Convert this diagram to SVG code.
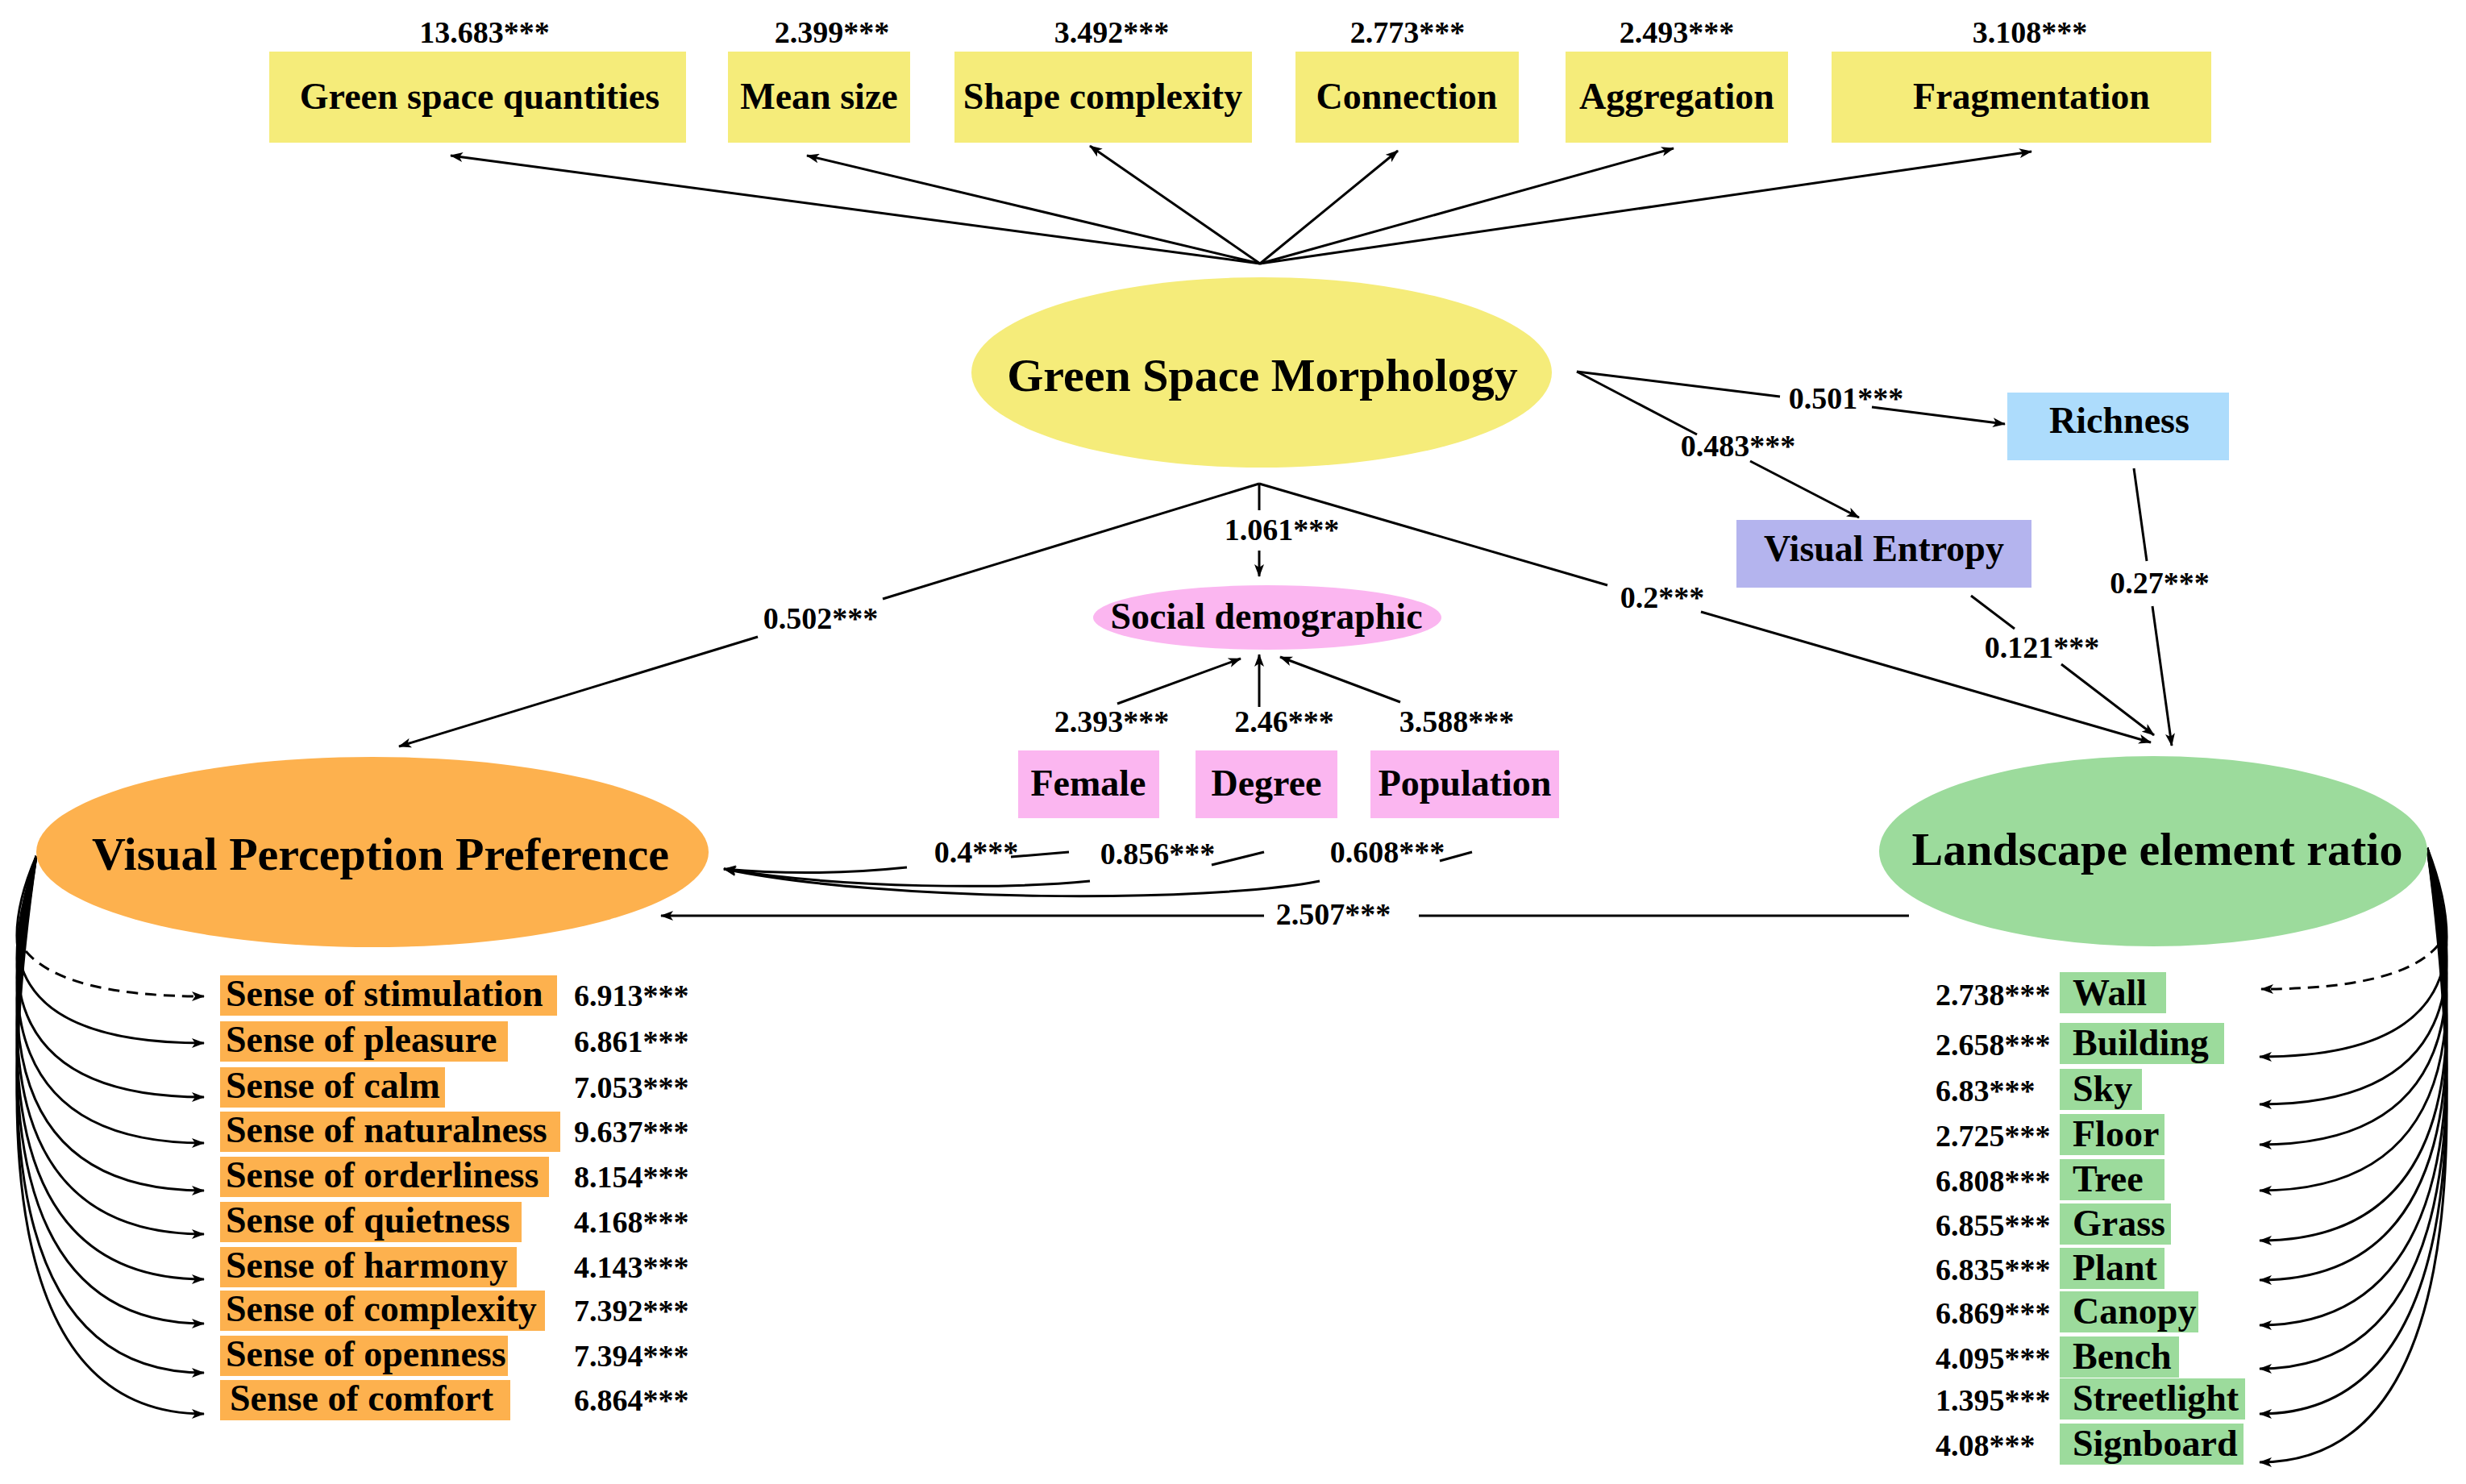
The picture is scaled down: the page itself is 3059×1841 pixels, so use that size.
<svg xmlns="http://www.w3.org/2000/svg" width="3059" height="1841" viewBox="0 0 3059 1841">
<style>
text{font-family:"Liberation Serif","Times New Roman",serif;font-weight:bold;fill:#000}
.lbl{font-size:46px}
.big{font-size:58px}
.num{font-size:38px}
.mid{text-anchor:middle}
.ln{fill:none;stroke:#000;stroke-width:3}
.ar{marker-end:url(#ah)}
.dash{stroke-dasharray:14 9}
.yel{fill:#F5EC7A}
.org{fill:#FDB14E}
.grn{fill:#9CDB9C}
.pnk{fill:#FBB6F0}
.blu{fill:#ADDCFC}
.pur{fill:#B4B4EE}
</style>
<defs>
<marker id="ah" markerUnits="userSpaceOnUse" markerWidth="16" markerHeight="12" refX="15" refY="6" orient="auto">
<path d="M0,0 L16,6 L0,12 L4,6 Z" fill="#000"/>
</marker>
</defs>
<rect width="3059" height="1841" fill="#fff"/>

<g id="connectors">
<!-- top fan -->
<path class="ln ar" d="M1563,327 L559,193"/>
<path class="ln ar" d="M1563,327 L1001,193"/>
<path class="ln ar" d="M1563,327 L1352,181"/>
<path class="ln ar" d="M1563,327 L1734,187"/>
<path class="ln ar" d="M1563,327 L2076,184"/>
<path class="ln ar" d="M1563,327 L2520,188"/>
<!-- GSM to Richness / Visual Entropy -->
<path class="ln" d="M1956,461 L2208,492"/>
<path class="ln ar" d="M2322,505 L2487,526"/>
<path class="ln" d="M1956,461 L2105,539"/>
<path class="ln ar" d="M2171,572 L2306,642"/>
<!-- GSM to VPP / LER / Social -->
<path class="ln" d="M1562,600 L1095,743"/>
<path class="ln ar" d="M940,790 L495,926"/>
<path class="ln" d="M1562,600 L1994,726"/>
<path class="ln ar" d="M2110,759 L2668,921"/>
<path class="ln" d="M1562,600 L1562,633"/>
<path class="ln ar" d="M1562,683 L1562,715"/>
<!-- Visual Entropy / Richness to LER -->
<path class="ln" d="M2445,739 L2499,780"/>
<path class="ln ar" d="M2557,824 L2672,912"/>
<path class="ln" d="M2647,581 L2663,696"/>
<path class="ln ar" d="M2670,752 L2694,925"/>
<!-- indicators to Social demographic -->
<path class="ln ar" d="M1386,873 L1539,817"/>
<path class="ln ar" d="M1562,877 L1562,812"/>
<path class="ln ar" d="M1737,871 L1588,815"/>
<!-- Social indicators to VPP -->
<path class="ln" d="M1326,1057 L1254,1063"/>
<path class="ln ar" d="M1125,1076 Q1010,1088 898,1078"/>
<path class="ln" d="M1568,1057 L1503,1073"/>
<path class="ln ar" d="M1352,1093 C1250,1103 1050,1103 898,1078"/>
<path class="ln" d="M1826,1057 L1786,1068"/>
<path class="ln ar" d="M1637,1093 C1500,1120 1100,1120 898,1078"/>
<!-- LER to VPP -->
<path class="ln" d="M2368,1136 L1760,1136"/>
<path class="ln ar" d="M1568,1136 L820,1136"/>
<!-- VPP indicators -->
<path class="ln ar dash" d="M32,1180 Q80,1236 253,1236"/>
<path class="ln ar" d="M45,1062 C-5,1178 5,1294 253,1294"/>
<path class="ln ar" d="M45,1062 C-5,1212 5,1361 253,1361"/>
<path class="ln ar" d="M45,1062 C-5,1240 5,1418 253,1418"/>
<path class="ln ar" d="M45,1062 C-5,1270 5,1477 253,1477"/>
<path class="ln ar" d="M45,1062 C-5,1297 5,1531 253,1531"/>
<path class="ln ar" d="M45,1062 C-5,1325 5,1587 253,1587"/>
<path class="ln ar" d="M45,1062 C-5,1352 5,1642 253,1642"/>
<path class="ln ar" d="M45,1062 C-5,1383 5,1703 253,1703"/>
<path class="ln ar" d="M45,1062 C-5,1408 5,1754 253,1754"/>
<!-- LER indicators -->
<path class="ln ar dash" d="M3025,1172 Q2980,1227 2805,1227"/>
<path class="ln ar" d="M3011,1052 C3061,1182 3051,1311 2803,1311"/>
<path class="ln ar" d="M3011,1052 C3061,1211 3051,1370 2803,1370"/>
<path class="ln ar" d="M3011,1052 C3061,1236 3051,1420 2803,1420"/>
<path class="ln ar" d="M3011,1052 C3061,1265 3051,1477 2803,1477"/>
<path class="ln ar" d="M3011,1052 C3061,1296 3051,1539 2803,1539"/>
<path class="ln ar" d="M3011,1052 C3061,1320 3051,1588 2803,1588"/>
<path class="ln ar" d="M3011,1052 C3061,1348 3051,1644 2803,1644"/>
<path class="ln ar" d="M3011,1052 C3061,1375 3051,1698 2803,1698"/>
<path class="ln ar" d="M3011,1052 C3061,1403 3051,1754 2803,1754"/>
<path class="ln ar" d="M3011,1052 C3061,1433 3051,1814 2803,1814"/>
<!-- path labels -->
<text class="num mid" x="601" y="53">13.683***</text>
<text class="num mid" x="1032" y="53">2.399***</text>
<text class="num mid" x="1379" y="53">3.492***</text>
<text class="num mid" x="1746" y="53">2.773***</text>
<text class="num mid" x="2080" y="53">2.493***</text>
<text class="num mid" x="2518" y="53">3.108***</text>
<text class="num mid" x="2290" y="507">0.501***</text>
<text class="num mid" x="2156" y="566">0.483***</text>
<text class="num mid" x="1018" y="780">0.502***</text>
<text class="num mid" x="2062" y="754">0.2***</text>
<text class="num mid" x="1590" y="670">1.061***</text>
<text class="num mid" x="2533" y="816">0.121***</text>
<text class="num mid" x="2679" y="736">0.27***</text>
<text class="num mid" x="1379" y="908">2.393***</text>
<text class="num mid" x="1593" y="908">2.46***</text>
<text class="num mid" x="1807" y="908">3.588***</text>
<text class="num mid" x="1211" y="1070">0.4***</text>
<text class="num mid" x="1436" y="1072">0.856***</text>
<text class="num mid" x="1721" y="1070">0.608***</text>
<text class="num mid" x="1654" y="1147">2.507***</text>
</g>

<g id="n-gsq"><rect class="yel" x="334" y="64" width="517" height="113"/><text class="lbl mid" x="595" y="135">Green space quantities</text></g>
<g id="n-mean"><rect class="yel" x="903" y="64" width="226" height="113"/><text class="lbl mid" x="1016" y="135">Mean size</text></g>
<g id="n-shape"><rect class="yel" x="1184" y="64" width="369" height="113"/><text class="lbl mid" x="1368" y="135">Shape complexity</text></g>
<g id="n-conn"><rect class="yel" x="1607" y="64" width="277" height="113"/><text class="lbl mid" x="1745" y="135">Connection</text></g>
<g id="n-aggr"><rect class="yel" x="1942" y="64" width="276" height="113"/><text class="lbl mid" x="2080" y="135">Aggregation</text></g>
<g id="n-frag"><rect class="yel" x="2272" y="64" width="471" height="113"/><text class="lbl mid" x="2520" y="135">Fragmentation</text></g>

<g id="n-gsm"><ellipse class="yel" cx="1565" cy="462" rx="360" ry="118"/><text class="big mid" x="1566" y="485">Green Space Morphology</text></g>
<g id="n-richness"><rect class="blu" x="2490" y="487" width="275" height="84"/><text class="lbl mid" x="2629" y="537">Richness</text></g>
<g id="n-entropy"><rect class="pur" x="2154" y="645" width="366" height="84"/><text class="lbl mid" x="2337" y="696">Visual Entropy</text></g>
<g id="n-social"><ellipse class="pnk" cx="1572" cy="766" rx="216" ry="40"/><text class="lbl mid" x="1571" y="780">Social demographic</text></g>
<g id="n-female"><rect class="pnk" x="1263" y="931" width="175" height="84"/><text class="lbl mid" x="1350" y="987">Female</text></g>
<g id="n-degree"><rect class="pnk" x="1483" y="931" width="176" height="84"/><text class="lbl mid" x="1571" y="987">Degree</text></g>
<g id="n-population"><rect class="pnk" x="1700" y="931" width="234" height="84"/><text class="lbl mid" x="1817" y="987">Population</text></g>

<g id="n-vpp"><ellipse class="org" cx="462" cy="1057" rx="417" ry="118"/><text class="big mid" x="472" y="1079">Visual Perception Preference</text></g>
<g id="n-ler"><ellipse class="grn" cx="2671" cy="1056" rx="340" ry="118"/><text class="big mid" x="2676" y="1073">Landscape element ratio</text></g>

<g id="vpp-items">
<g id="i-stimulation"><rect class="org" x="273" y="1210" width="418" height="50"/><text class="lbl" x="280" y="1248">Sense of stimulation</text><text class="num" x="712" y="1248">6.913***</text></g>
<g id="i-pleasure"><rect class="org" x="273" y="1267" width="357" height="50"/><text class="lbl" x="280" y="1305">Sense of pleasure</text><text class="num" x="712" y="1305">6.861***</text></g>
<g id="i-calm"><rect class="org" x="273" y="1324" width="279" height="50"/><text class="lbl" x="280" y="1362">Sense of calm</text><text class="num" x="712" y="1362">7.053***</text></g>
<g id="i-naturalness"><rect class="org" x="273" y="1379" width="422" height="50"/><text class="lbl" x="280" y="1417">Sense of naturalness</text><text class="num" x="712" y="1417">9.637***</text></g>
<g id="i-orderliness"><rect class="org" x="273" y="1435" width="408" height="50"/><text class="lbl" x="280" y="1473">Sense of orderliness</text><text class="num" x="712" y="1473">8.154***</text></g>
<g id="i-quietness"><rect class="org" x="273" y="1491" width="374" height="50"/><text class="lbl" x="280" y="1529">Sense of quietness</text><text class="num" x="712" y="1529">4.168***</text></g>
<g id="i-harmony"><rect class="org" x="273" y="1547" width="368" height="50"/><text class="lbl" x="280" y="1585">Sense of harmony</text><text class="num" x="712" y="1585">4.143***</text></g>
<g id="i-complexity"><rect class="org" x="273" y="1601" width="403" height="50"/><text class="lbl" x="280" y="1639">Sense of complexity</text><text class="num" x="712" y="1639">7.392***</text></g>
<g id="i-openness"><rect class="org" x="273" y="1657" width="357" height="50"/><text class="lbl" x="280" y="1695">Sense of openness</text><text class="num" x="712" y="1695">7.394***</text></g>
<g id="i-comfort"><rect class="org" x="273" y="1712" width="360" height="50"/><text class="lbl" x="285" y="1750">Sense of comfort</text><text class="num" x="712" y="1750">6.864***</text></g>
</g>

<g id="ler-items">
<g id="i-wall"><rect class="grn" x="2555" y="1206" width="132" height="51"/><text class="lbl" x="2571" y="1247">Wall</text><text class="num" x="2401" y="1247">2.738***</text></g>
<g id="i-building"><rect class="grn" x="2555" y="1269" width="204" height="51"/><text class="lbl" x="2571" y="1309">Building</text><text class="num" x="2401" y="1309">2.658***</text></g>
<g id="i-sky"><rect class="grn" x="2555" y="1326" width="102" height="51"/><text class="lbl" x="2571" y="1366">Sky</text><text class="num" x="2401" y="1366">6.83***</text></g>
<g id="i-floor"><rect class="grn" x="2555" y="1382" width="130" height="51"/><text class="lbl" x="2571" y="1422">Floor</text><text class="num" x="2401" y="1422">2.725***</text></g>
<g id="i-tree"><rect class="grn" x="2555" y="1438" width="130" height="51"/><text class="lbl" x="2571" y="1478">Tree</text><text class="num" x="2401" y="1478">6.808***</text></g>
<g id="i-grass"><rect class="grn" x="2555" y="1493" width="138" height="51"/><text class="lbl" x="2571" y="1533">Grass</text><text class="num" x="2401" y="1533">6.855***</text></g>
<g id="i-plant"><rect class="grn" x="2555" y="1548" width="130" height="51"/><text class="lbl" x="2571" y="1588">Plant</text><text class="num" x="2401" y="1588">6.835***</text></g>
<g id="i-canopy"><rect class="grn" x="2555" y="1602" width="172" height="51"/><text class="lbl" x="2571" y="1642">Canopy</text><text class="num" x="2401" y="1642">6.869***</text></g>
<g id="i-bench"><rect class="grn" x="2555" y="1658" width="148" height="51"/><text class="lbl" x="2571" y="1698">Bench</text><text class="num" x="2401" y="1698">4.095***</text></g>
<g id="i-streetlight"><rect class="grn" x="2555" y="1710" width="230" height="51"/><text class="lbl" x="2571" y="1750">Streetlight</text><text class="num" x="2401" y="1750">1.395***</text></g>
<g id="i-signboard"><rect class="grn" x="2555" y="1766" width="228" height="51"/><text class="lbl" x="2571" y="1806">Signboard</text><text class="num" x="2401" y="1806">4.08***</text></g>
</g>
</svg>
